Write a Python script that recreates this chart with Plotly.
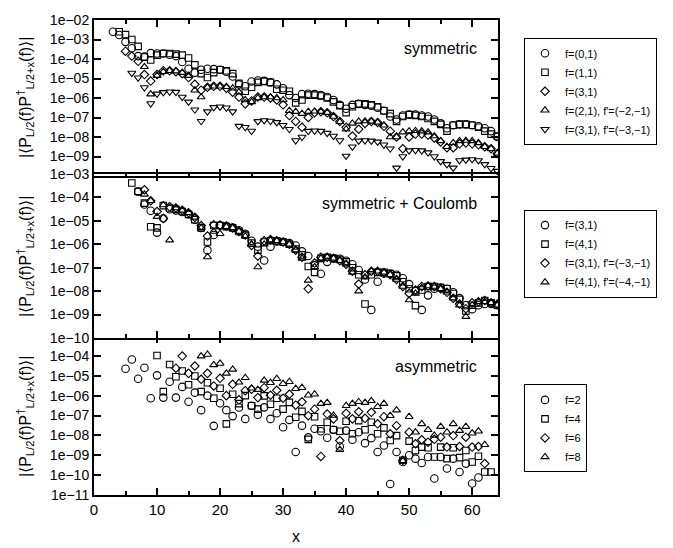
import plotly.graph_objects as go
import numpy as np

# ---------- data (log10 of |<P P^dagger>|) ----------
# top panel: symmetric
sym_f01_x0 = 3
sym_f01 = [-2.6, -2.77, -3.12, -3.45, -3.85, -3.88, -3.7, -3.72, -3.72, -3.78, -3.85, -4.15, -4.5, -4.7,
           -4.55, -4.5, -4.52, -4.55, -4.65, -4.9, -5.3, -5.4, -5.15, -5.1, -5.12, -5.2, -5.3, -5.5, -5.85,
           -6.0, -5.8, -5.78, -5.8, -5.85, -5.95, -6.1, -6.35, -6.55, -6.35, -6.3, -6.35, -6.4, -6.5, -6.65,
           -6.95, -7.1, -6.9, -6.85, -6.85, -6.9, -6.95, -7.1, -7.3, -7.55, -7.4, -7.35, -7.35, -7.4, -7.45,
           -7.55, -7.7, -8.0]
sym_f11_x0 = 4
sym_f11 = [-2.6, -2.75, -3.0, -3.35, -3.9, -4.05, -3.8, -3.72, -3.72, -3.75, -3.8, -3.95, -4.3, -4.75,
           -4.95, -4.7, -4.55, -4.6, -4.75, -5.25, -5.65, -5.45, -5.2, -5.15, -5.2, -5.55, -5.6, -5.65, -6.25,
           -6.1, -5.85, -5.85, -5.9, -6.0, -6.2, -6.4, -6.75, -6.45, -6.3, -6.3, -6.35, -6.45, -6.65, -6.8,
           -7.2, -6.95, -6.85, -6.9, -6.95, -7.05, -7.2, -7.35, -7.7, -7.4, -7.35, -7.35, -7.4, -7.5, -7.7,
           -7.85, -7.95]
sym_f31_x0 = 5
sym_f31 = [-3.6, -3.85, -4.12, -4.8, -5.13, -4.8, -4.6, -4.6, -4.65, -4.75, -4.95, -5.3, -5.6, -5.45,
           -5.4, -5.4, -5.5, -5.7, -5.95, -6.3, -6.15, -5.95, -5.95, -6.0, -6.1, -6.35, -6.9, -7.2, -7.5,
           -7.0, -6.75, -6.7, -6.75, -6.95, -7.2, -7.5, -7.95, -7.6, -7.3, -7.2, -7.25, -7.45, -7.7, -8.0,
           -8.6, -8.0, -7.85, -7.85, -7.9, -8.05, -8.25, -8.55, -8.55, -8.35, -8.3, -8.35, -8.4, -8.5, -8.6,
           -8.84]
sym_f21p_x0 = 8
sym_f21p = [-4.4, -5.8, -4.85, -4.65, -4.6, -4.62, -4.7, -4.85, -5.6, -5.95, -5.45, -5.4, -5.4, -5.42,
            -5.5, -5.7, -6.1, -6.2, -6.0, -5.95, -5.95, -6.0, -6.1, -6.65, -6.7, -6.8, -6.7, -6.68, -6.7,
            -6.75, -6.95, -7.22, -7.6, -7.3, -7.2, -7.18, -7.2, -7.25, -7.4, -8.0, -8.0, -7.75, -7.7, -7.68,
            -7.7, -7.75, -7.95, -8.2, -8.5, -8.3, -8.2, -8.18, -8.2, -8.3, -8.5, -8.6, -8.84]
sym_f31p_x0 = 6
sym_f31p = [-4.72, -4.96, -5.46, -6.28, -5.79, -5.71, -5.68, -5.7, -5.95, -6.2, -6.6, -7.19, -6.7, -6.48,
            -6.45, -6.5, -6.7, -7.44, -7.5, -7.69, -7.2, -7.15, -7.18, -7.25, -7.4, -7.6, -8.18, -8.0, -7.7,
            -7.68, -7.7, -7.8, -7.95, -8.18, -8.97, -8.5, -8.2, -8.18, -8.2, -8.25, -8.4, -8.6, -9.58, -9.0,
            -8.7, -8.68, -8.7, -8.8, -9.0, -9.25, -9.4, -9.58, -9.2, -9.17, -9.15, -9.2, -9.4, -9.6, -9.75]

# middle panel: symmetric + Coulomb
cou_f31_x0 = 7
cou_f31 = [-3.75, -4.3, -4.57, -5.5, -4.89, -4.5, -4.55, -4.62, -4.72, -4.95, -5.3, -6.25, -5.6, -5.2,
           -5.22, -5.28, -5.4, -5.55, -5.85, -6.1, -6.69, -6.1, -5.88, -5.9, -5.95, -6.05, -6.3, -6.5, -6.9,
           -7.26, -6.75, -6.6, -6.62, -6.7, -6.85, -7.1, -7.5, -8.8, -7.6, -7.25, -7.25, -7.3, -7.45, -7.7,
           -8.0, -8.8, -8.18, -7.9, -7.85, -7.9, -8.05, -8.3, -8.6, -8.77, -8.6, -8.55, -8.55, -8.6]
cou_f41_x0 = 6
cou_f41 = [-3.38, -3.74, -4.24, -5.25, -5.3, -4.35, -4.45, -4.5, -4.6, -4.72, -4.95, -5.3, -5.9, -5.2,
           -5.2, -5.25, -5.3, -5.45, -5.6, -5.95, -6.25, -5.9, -5.85, -5.85, -5.9, -6.0, -6.2, -6.45, -6.95,
           -7.2, -6.6, -6.55, -6.6, -6.65, -6.75, -7.0, -7.3, -8.55, -7.3, -7.2, -7.2, -7.25, -7.35, -7.6,
           -7.9, -8.62, -7.95, -7.8, -7.8, -7.85, -7.9, -8.1, -8.35, -8.85, -8.6, -8.5, -8.4, -8.5, -8.6]
cou_f31p_x0 = 8
cou_f31p = [-3.67, -4.14, -4.6, -4.9, -4.4, -4.45, -4.55, -4.65, -4.85, -5.2, -5.65, -5.17, -5.18, -5.22,
            -5.3, -5.45, -5.6, -6.05, -6.5, -5.85, -5.8, -5.85, -5.9, -6.0, -6.25, -6.55, -7.9, -6.8, -6.55,
            -6.55, -6.6, -6.7, -6.85, -7.15, -7.7, -7.3, -7.15, -7.15, -7.2, -7.3, -7.5, -7.8, -8.1, -7.95,
            -7.8, -7.78, -7.8, -7.9, -8.05, -8.3, -8.55, -8.75, -8.5, -8.45, -8.4, -8.5, -8.55]
cou_f41p_x0 = 8
cou_f41p = [-3.87, -4.14, -4.82, -4.32, -5.82, -4.45, -4.55, -4.65, -4.85, -5.3, -6.54, -5.45, -5.55, -5.25,
            -5.3, -5.45, -5.65, -6.0, -6.97, -6.0, -5.82, -5.85, -5.9, -6.0, -6.25, -6.6, -7.54, -6.97, -6.6,
            -6.55, -6.6, -6.7, -6.85, -7.2, -8.0, -7.4, -7.15, -7.15, -7.2, -7.3, -7.5, -7.8, -8.38, -8.1,
            -7.85, -7.78, -7.8, -7.9, -8.05, -8.3, -8.6, -9.09, -8.6, -8.45, -8.45, -8.5, -8.6]

# bottom panel: asymmetric
asy_f2_x0 = 5
asy_f2 = [-4.65, -4.18, -5.15, -4.6, -6.13, -4.98, -6.1, -5.3, -6.1, -5.56, -6.31, -5.85, -6.73, -6.0,
          -7.52, -6.38, -6.73, -7.03, -6.6, -7.17, -6.51, -6.96, -6.59, -7.17, -6.89, -7.59, -7.22, -8.84,
          -7.51, -8.1, -7.67, -7.79, -8.12, -7.72, -8.56, -7.76, -8.22, -7.84, -8.39, -8.14, -8.84, -8.51,
          -10.45, -8.84, -9.34, -9.0, -9.17, -9.39, -9.09, -10.17, -9.09, -9.67, -9.17, -9.84, -9.42,
          -10.42, -10.12]
asy_f4_x0 = 10
asy_f4 = [-3.98, -5.8, -4.43, -5.05, -4.76, -5.45, -5.01, -5.8, -5.35, -6.13, -5.63, -7.42, -5.93, -6.4,
          -6.0, -6.51, -6.68, -6.01, -6.43, -6.13, -6.68, -6.34, -7.09, -6.79, -8.2, -7.06, -7.67, -7.34,
          -7.72, -7.79, -7.29, -7.92, -7.26, -7.72, -7.34, -7.92, -7.62, -8.26, -8.01, -9.25, -8.29, -8.76,
          -8.59, -8.62, -9.09, -8.59, -9.17, -8.62, -9.12, -8.76, -9.34, -9.05, -9.84, -9.84]
asy_f6_x0 = 13
asy_f6 = [-4.62, -4.01, -4.88, -4.51, -5.18, -4.88, -5.51, -5.13, -6.0, -5.43, -6.21, -5.75, -5.68, -6.1,
          -5.6, -5.98, -5.73, -6.13, -5.93, -6.48, -6.31, -7.01, -6.68, -9.06, -6.93, -7.17, -8.26, -6.89,
          -7.17, -6.81, -7.14, -6.84, -7.42, -7.06, -7.92, -7.51, -9.25, -7.84, -8.42, -8.22, -8.34, -8.2,
          -8.09, -8.59, -8.01, -8.56, -8.09, -8.59, -8.56, -9.42]
asy_f8_x0 = 17
asy_f8 = [-4.01, -3.93, -4.45, -4.38, -4.88, -4.68, -5.33, -5.1, -5.63, -5.7, -5.23, -5.35, -5.15, -5.4,
          -5.3, -5.65, -5.6, -5.98, -5.93, -6.4, -6.35, -7.0, -8.72, -6.51, -6.4, -6.31, -6.35, -6.26, -6.56,
          -6.4, -7.01, -6.73, -9.28, -7.06, -7.84, -7.42, -7.72, -8.0, -7.56, -7.84, -7.42, -7.76, -7.56,
          -7.89, -7.79, -8.47]

sym_labels = ["f=(0,1)", "f=(1,1)", "f=(3,1)", "f=(2,1), f'=(\u22122,\u22121)", "f=(3,1), f'=(\u22123,\u22121)"]
cou_labels = ["f=(3,1)", "f=(4,1)", "f=(3,1), f'=(\u22123,\u22121)", "f=(4,1), f'=(\u22124,\u22121)"]
asy_labels = ["f=2", "f=4", "f=6", "f=8"]

x_ticks = [0, 10, 20, 30, 40, 50, 60]

FONT = "Liberation Sans, Arial, Helvetica, sans-serif"
SYM = {"o": "circle-open", "s": "square-open", "d": "diamond-open", "^": "triangle-up-open", "v": "triangle-down-open"}
SIZE = {"o": 7.5, "s": 6.5, "d": 6.5, "^": 7, "v": 7}

fig = go.Figure()


def add(series, x0, name, mk, xa, ya, leg):
    xs = list(range(x0, x0 + len(series)))
    ys = [10.0 ** v for v in series]
    fig.add_trace(go.Scatter(
        x=xs, y=ys, mode="markers", name=name, xaxis=xa, yaxis=ya, legend=leg,
        marker=dict(symbol=SYM[mk], size=SIZE[mk], color="black", line=dict(width=1.1)),
    ))


add(sym_f01, sym_f01_x0, sym_labels[0], "o", "x3", "y3", "legend")
add(sym_f11, sym_f11_x0, sym_labels[1], "s", "x3", "y3", "legend")
add(sym_f31, sym_f31_x0, sym_labels[2], "d", "x3", "y3", "legend")
add(sym_f21p, sym_f21p_x0, sym_labels[3], "^", "x3", "y3", "legend")
add(sym_f31p, sym_f31p_x0, sym_labels[4], "v", "x3", "y3", "legend")

add(cou_f31, cou_f31_x0, cou_labels[0], "o", "x2", "y2", "legend2")
add(cou_f41, cou_f41_x0, cou_labels[1], "s", "x2", "y2", "legend2")
add(cou_f31p, cou_f31p_x0, cou_labels[2], "d", "x2", "y2", "legend2")
add(cou_f41p, cou_f41p_x0, cou_labels[3], "^", "x2", "y2", "legend2")

add(asy_f2, asy_f2_x0, asy_labels[0], "o", "x", "y", "legend3")
add(asy_f4, asy_f4_x0, asy_labels[1], "s", "x", "y", "legend3")
add(asy_f6, asy_f6_x0, asy_labels[2], "d", "x", "y", "legend3")
add(asy_f8, asy_f8_x0, asy_labels[3], "^", "x", "y", "legend3")

W, H = 673, 548
L, R, T, B = 94, 175, 14, 53
ph = H - T - B
LW = 2
d1 = (495 - 336) / ph
d2 = (495 - 172) / ph
ov = LW / ph  # overlap so that adjacent frame lines coincide


def xax(show, anchor):
    return dict(range=[0, 64.1], anchor=anchor, showline=True, linewidth=LW, linecolor="black",
                mirror="ticks", ticks="inside", ticklen=7, tickwidth=1.5, tickcolor="black",
                tickvals=x_ticks, ticktext=[str(v) for v in x_ticks], showticklabels=show,
                showgrid=False, zeroline=False,
                minor=dict(dtick=5, tick0=0, ticks="inside", ticklen=4, tickwidth=1.5, tickcolor="black"),
                tickfont=dict(family=FONT, size=15, color="black"))


def yax(lo, hi, lab_lo, lab_hi, domain, anchor):
    vals = [10.0 ** e for e in range(lab_lo, lab_hi + 1)]
    txt = ["1e\u2212%02d" % (-e) for e in range(lab_lo, lab_hi + 1)]
    return dict(type="log", range=[lo, hi], domain=domain, anchor=anchor, showline=True, linewidth=LW,
                linecolor="black", mirror="ticks", ticks="inside", ticklen=7, tickwidth=1.5,
                tickcolor="black", tickvals=vals, ticktext=txt, showgrid=False, zeroline=False,
                tickfont=dict(family=FONT, size=14, color="black"))


leg_common = dict(xanchor="left", yanchor="top", bordercolor="black", borderwidth=1, bgcolor="white",
                  font=dict(family=FONT, size=11, color="black"), tracegroupgap=0, itemwidth=30)

ylab = "|\u27e8P<sub>L/2</sub>(f)P<sup>\u2020</sup><sub>L/2+x</sub>(f)\u27e9|"


def ylab_ann(yc):
    return dict(text=ylab, textangle=-90, xref="paper", yref="paper", x=(25 - L) / (W - L - R), y=yc,
                xanchor="center", yanchor="middle", showarrow=False,
                font=dict(family=FONT, size=16, color="black"))


def panel_ann(text, ypix):
    return dict(text=text, xref="paper", yref="paper", x=(479 - L) / (W - L - R), y=(H - B - ypix) / ph,
                xanchor="right", yanchor="middle", showarrow=False,
                font=dict(family=FONT, size=16, color="black"))


fig.update_layout(
    width=W, height=H, margin=dict(l=L, r=R, t=T, b=B, pad=0),
    paper_bgcolor="white", plot_bgcolor="white", showlegend=True,
    xaxis=xax(True, "y"), xaxis2=xax(False, "y2"), xaxis3=xax(False, "y3"),
    yaxis=yax(-11, -3, -11, -4, [0, d1 + ov], "x"),
    yaxis2=yax(-10, -3, -10, -3, [d1, d2 + ov], "x2"),
    yaxis3=yax(-10, -2, -9, -2, [d2, 1], "x3"),
    legend=dict(leg_common, x=(524 - L) / (W - L - R), y=(H - B - 32) / ph),
    legend2=dict(leg_common, x=(524 - L) / (W - L - R), y=(H - B - 206) / ph),
    legend3=dict(leg_common, x=(524 - L) / (W - L - R), y=(H - B - 383) / ph),
    annotations=[
        ylab_ann((495 - 93) / ph), ylab_ann((495 - 254) / ph), ylab_ann((495 - 416) / ph),
        panel_ann("symmetric", 43), panel_ann("symmetric + Coulomb", 200), panel_ann("asymmetric", 365),
        dict(text="x", xref="paper", yref="paper", x=0.5, y=(H - B - 537) / ph, xanchor="center",
             yanchor="middle", showarrow=False, font=dict(family=FONT, size=16, color="black")),
    ],
)

fig.write_html("out.html")
